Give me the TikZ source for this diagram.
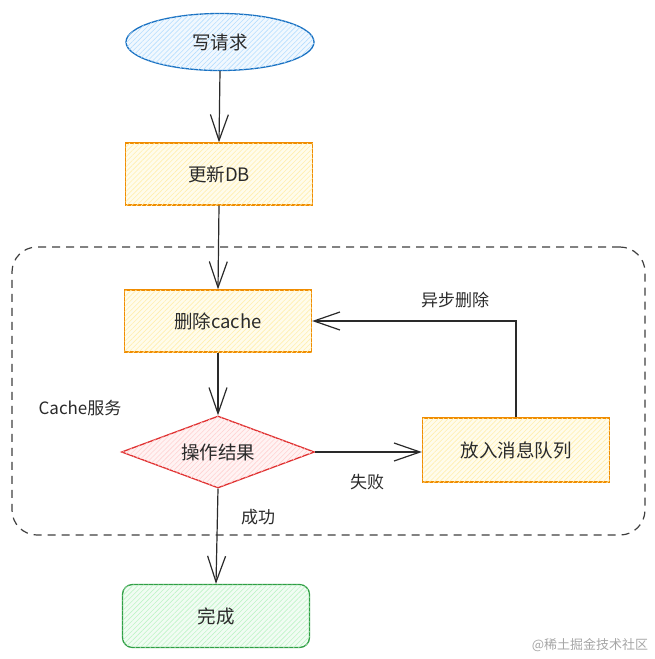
\documentclass[tikz,border=0pt]{standalone}
\usepackage{fontspec}
\setmainfont{Noto Sans CJK SC}
\usetikzlibrary{arrows.meta,patterns.meta,shapes.geometric}
\definecolor{ink}{HTML}{2A2A2A}
\definecolor{blueline}{HTML}{1971C2}
\definecolor{bluefill}{HTML}{F1F8FE}
\definecolor{bluehatch}{HTML}{B5DEFF}
\definecolor{orangeline}{HTML}{F08C00}
\definecolor{yellowfill}{HTML}{FFFCEC}
\definecolor{yellowhatch}{HTML}{FFEFAE}
\definecolor{redline}{HTML}{E03131}
\definecolor{redfill}{HTML}{FFF3F3}
\definecolor{redhatch}{HTML}{FFD2D2}
\definecolor{greenline}{HTML}{2F9E44}
\definecolor{greenfill}{HTML}{F1FCF3}
\definecolor{greenhatch}{HTML}{BFF4C7}
\begin{document}
\begin{tikzpicture}[x=1pt,y=-1pt,
  txt/.style={text=ink,font=\fontsize{18.5}{22}\selectfont},
  lbl/.style={text=ink,font=\fontsize{17}{20}\selectfont},
  hatch/.style={postaction={pattern={Lines[angle=45,distance=3.5pt,line width=0.6pt]},pattern color=#1}},
  startnode/.style={ellipse,draw=blueline,line width=1.3pt,fill=bluefill,hatch=bluehatch,minimum width=188pt,minimum height=57pt,inner sep=0pt,txt},
  stepbox/.style={rectangle,draw=orangeline,line width=1.3pt,fill=yellowfill,hatch=yellowhatch,minimum width=187pt,minimum height=62pt,inner sep=0pt,txt},
  decision/.style={diamond,draw=redline,line width=1.3pt,fill=redfill,hatch=redhatch,minimum width=193pt,minimum height=72pt,inner sep=0pt,aspect=2.7,txt},
  endnode/.style={rectangle,rounded corners=10pt,draw=greenline,line width=1.3pt,fill=greenfill,hatch=greenhatch,minimum width=187pt,minimum height=63pt,inner sep=0pt,txt},
  conn/.style={draw=ink,line width=1.2pt,-{Straight Barb[length=26pt,width=18pt,line width=1.2pt]}},
]
\useasboundingbox (0,0) rectangle (655,659);
\node[draw=ink!90,line width=1.2pt,dash pattern=on 8pt off 6pt,rounded corners=25pt,minimum width=633pt,minimum height=288pt,inner sep=0pt] (svc) at (328.5,391) {};
\node[startnode] (start) at (220,42) {写请求};
\node[stepbox] (db) at (219,174) {更新DB};
\node[stepbox] (del) at (218,321) {删除cache};
\node[decision] (dia) at (218,452) {操作结果};
\node[stepbox,minimum height=64pt] (q) at (516,450) {放入消息队列};
\node[endnode] (done) at (216,616) {完成};
\node[lbl] (l1) at (455,300) {异步删除};
\node[lbl] (l2) at (367,482) {失败};
\node[lbl] (l3) at (258,517) {成功};
\node[lbl] (l4) at (80,408) {Cache服务};
\node[text=gray!70,font=\fontsize{13}{15}\selectfont] (wm) at (590,645) {@稀土掘金技术社区};
\draw[conn] (start.south) -- (db.north);
\draw[conn] (db.south) -- (del.north);
\draw[conn] (del.south) -- (dia.north);
\draw[conn] (dia.east) -- (dia.east -| q.west);
\draw[conn] (q.north) |- (del.east);
\draw[conn] (dia.south) -- (done.north);
\end{tikzpicture}
\end{document}
